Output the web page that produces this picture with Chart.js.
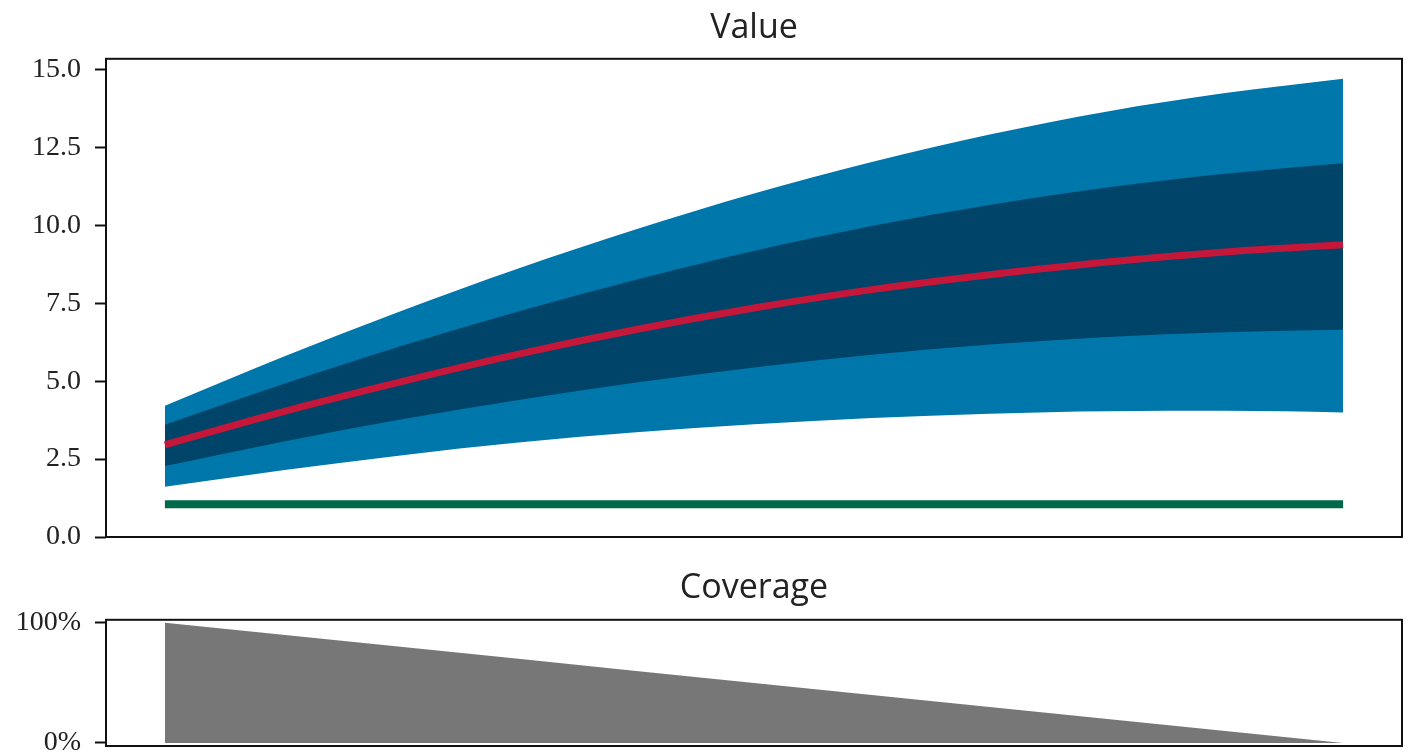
<!DOCTYPE html>
<html>
<head>
<meta charset="utf-8">
<script src="https://cdn.jsdelivr.net/npm/chart.js@4/dist/chart.umd.min.js"></script>
<style>
  html, body { margin: 0; padding: 0; background: #fff; }
  #top { position: absolute; left: 0; top: 0; }
  #bottom { position: absolute; left: 0; top: 550px; }
</style>
</head>
<body>
<canvas id="top" width="1409" height="550"></canvas>
<canvas id="bottom" width="1409" height="204"></canvas>
<script>
// step index along the x axis
const steps = [0, 1, 2, 3, 4, 5, 6, 7, 8, 9, 10];

// value bands
const outerHi = [4.21, 5.78, 7.25, 8.62, 9.88, 11.03, 12.04, 12.92, 13.66, 14.25, 14.71];
const innerHi = [3.60, 4.90, 6.12, 7.24, 8.26, 9.18, 9.98, 10.66, 11.22, 11.66, 12.00];
const median  = [2.96, 4.02, 4.98, 5.87, 6.66, 7.35, 7.94, 8.42, 8.83, 9.15, 9.38];
const innerLo = [2.28, 3.06, 3.77, 4.40, 4.96, 5.44, 5.85, 6.18, 6.42, 6.57, 6.65];
const outerLo = [1.61, 2.14, 2.62, 3.03, 3.36, 3.62, 3.82, 3.96, 4.04, 4.05, 4.00];
const baseline = [1.05, 1.05, 1.05, 1.05, 1.05, 1.05, 1.05, 1.05, 1.05, 1.05, 1.05];

const coverage = [1.0, 0.9, 0.8, 0.7, 0.6, 0.5, 0.4, 0.3, 0.2, 0.1, 0.0];

const valueTicks = [0, 2.5, 5, 7.5, 10, 12.5, 15];
const coverageTicks = [0, 1];

const pts = arr => arr.map((v, i) => ({ x: steps[i], y: v }));

// draws the box around the plot area
const frame = {
  id: 'frame',
  afterDraw(chart) {
    const { ctx, chartArea: a } = chart;
    ctx.save();
    ctx.strokeStyle = '#111';
    ctx.lineWidth = 2;
    ctx.strokeRect(a.left, a.top, a.right - a.left, a.bottom - a.top);
    ctx.restore();
  }
};

const titleFont = { family: 'Open Sans', size: 34, weight: 'normal' };
const tickFont = { family: 'Liberation Serif', size: 28 };

function yScale(min, max, values, fmt) {
  return {
    type: 'linear',
    min, max,
    afterFit: s => { s.width = 106; s.paddingTop = 0; s.paddingBottom = 0; },
    afterBuildTicks: s => { s.ticks = values.map(v => ({ value: v })); },
    grid: { drawOnChartArea: false, drawTicks: true, tickLength: 11, tickWidth: 2, tickColor: '#111' },
    border: { display: false },
    ticks: { font: tickFont, color: '#222', padding: 14, callback: fmt }
  };
}

const band = (data, color, fill, order) => ({
  data: pts(data), fill, backgroundColor: color, borderWidth: 0,
  pointRadius: 0, cubicInterpolationMode: 'monotone', order
});

new Chart(document.getElementById('top'), {
  type: 'line',
  data: {
    datasets: [
      { data: pts(median), borderColor: '#c4173a', borderWidth: 7, fill: false,
        pointRadius: 0, cubicInterpolationMode: 'monotone', order: 1 },
      { data: pts(baseline), borderColor: '#006a4a', borderWidth: 8, fill: false,
        pointRadius: 0, order: 2 },
      band(innerHi, '#00446a', '+1', 3),
      band(innerLo, '#00446a', false, 4),
      band(outerHi, '#0077aa', '+1', 5),
      band(outerLo, '#0077aa', false, 6)
    ]
  },
  options: {
    responsive: false,
    animation: false,
    layout: { padding: { top: 0, right: 7, bottom: 13, left: 0 } },
    plugins: {
      legend: { display: false },
      tooltip: { enabled: false },
      title: { display: true, fullSize: false, text: 'Value', font: titleFont, color: '#222',
               padding: { top: 8, bottom: 10 } }
    },
    scales: {
      x: { type: 'linear', min: -0.5, max: 10.5, display: false },
      y: yScale(0, 15.35, valueTicks, v => v.toFixed(1))
    }
  },
  plugins: [frame]
});

new Chart(document.getElementById('bottom'), {
  type: 'line',
  data: {
    datasets: [
      { data: pts(coverage), fill: 'origin', backgroundColor: '#777777',
        borderWidth: 0, pointRadius: 0 }
    ]
  },
  options: {
    responsive: false,
    animation: false,
    layout: { padding: { top: 0, right: 7, bottom: 8, left: 0 } },
    plugins: {
      legend: { display: false },
      tooltip: { enabled: false },
      title: { display: true, fullSize: false, text: 'Coverage', font: titleFont, color: '#222',
               padding: { top: 18, bottom: 11 } }
    },
    scales: {
      x: { type: 'linear', min: -0.5, max: 10.5, display: false },
      y: yScale(-0.025, 1.025, coverageTicks, v => Math.round(v * 100) + '%')
    }
  },
  plugins: [frame]
});
</script>
</body>
</html>
